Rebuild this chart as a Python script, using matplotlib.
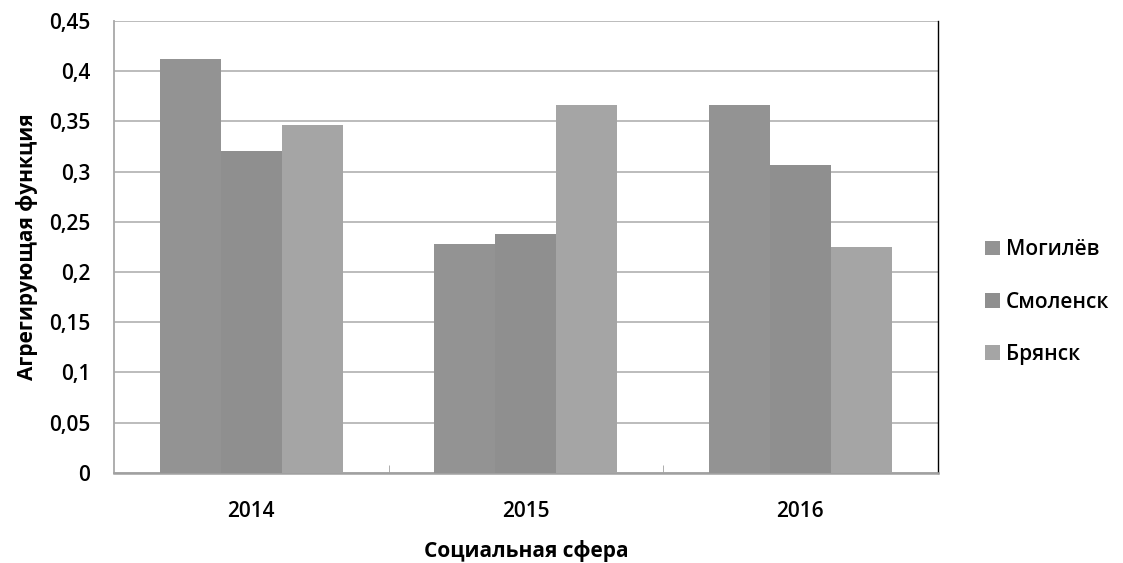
import numpy as np
import matplotlib.pyplot as plt

years = ["2014", "2015", "2016"]
series = ["Могилёв", "Смоленск", "Брянск"]
mogilev = [0.412, 0.228, 0.366]
smolensk = [0.321, 0.238, 0.307]
bryansk = [0.346, 0.366, 0.225]
colors = ["#939393", "#8f8f8f", "#a5a5a5"]

plt.rcParams['font.family'] = ['Open Sans', 'DejaVu Sans']

fig = plt.figure(figsize=(11.23, 5.63), dpi=100)
ax = fig.add_axes([0.1015, 0.160, 0.7335, 0.8027])

x = np.arange(len(years))
w = 0.222
for i, (name, vals) in enumerate(zip(series, [mogilev, smolensk, bryansk])):
    ax.bar(x + (i - 1) * w, vals, w, color=colors[i], label=name, zorder=3)

ax.set_xlim(-0.5, 2.5)
ax.set_ylim(0, 0.45)
yt = np.arange(0, 0.451, 0.05)
ax.set_yticks(yt)
ax.set_yticklabels([("%g" % v).replace(".", ",") for v in yt],
                   fontsize=15, fontweight='semibold')
ax.set_xticks(x)
ax.set_xticklabels(years, fontsize=15, fontweight='semibold')
ax.tick_params(axis='y', length=0, pad=17)
ax.tick_params(axis='x', length=0, pad=20)
ax.set_xticks([0.5, 1.5], minor=True)
ax.tick_params(axis='x', which='minor', direction='in', length=6, color='#a0a0a0')

ax.grid(axis='y', color='#b0b0b0', linewidth=1.2, zorder=0)
ax.spines['top'].set_visible(False)
ax.spines['left'].set_color('#a8a8a8')
ax.spines['bottom'].set_color('#a0a0a0')
ax.spines['left'].set_linewidth(1.3)
ax.spines['bottom'].set_linewidth(1.8)
ax.spines['right'].set_color('black')
ax.spines['right'].set_linewidth(1.0)

ax.set_ylabel("Агрегирующая функция", fontsize=15, fontweight='bold', labelpad=8)
ax.set_xlabel("Социальная сфера", fontsize=15, fontweight='bold', labelpad=13)

ax.legend(loc='center left', bbox_to_anchor=(1.035, 0.378), frameon=False,
          prop={'size': 15, 'weight': 'semibold'},
          handlelength=0.7, handleheight=0.7, handletextpad=0.3,
          labelspacing=1.5)

fig.savefig("out.png", dpi=100)
